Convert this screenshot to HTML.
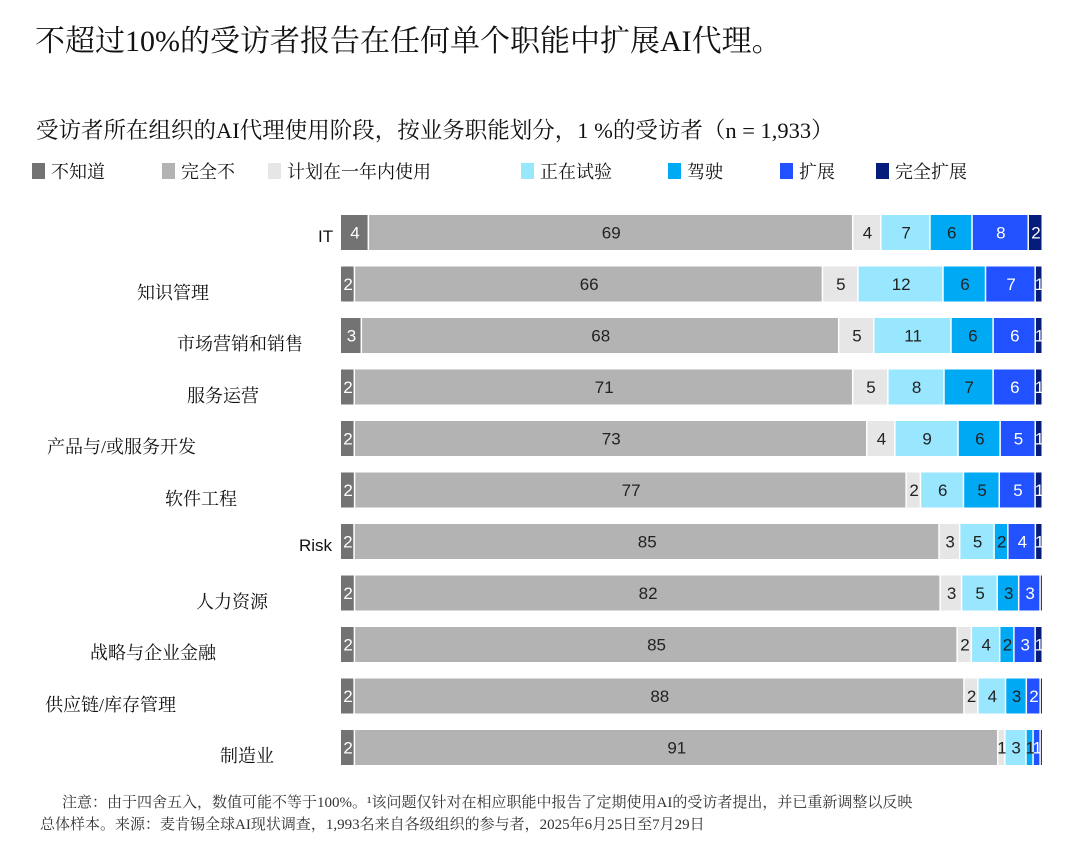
<!DOCTYPE html>
<html><head><meta charset="utf-8">
<style>
body{margin:0;background:#fff;width:1080px;height:854px;overflow:hidden;position:relative;font-family:"Liberation Serif","Noto Serif CJK SC",serif;color:#111}
.abs{position:absolute;white-space:nowrap}
.leg{position:absolute;top:158px;font-size:18px;font-family:"Liberation Serif","Noto Serif CJK SC",serif}
.leg i{display:inline-block;width:13px;height:16px;margin-right:6px;vertical-align:-1px}
.cat{position:absolute;font-size:18px}
</style></head><body>
<div class="abs" style="left:35px;top:16px;font-size:30px;">不超过10%的受访者报告在任何单个职能中扩展AI代理。</div>
<div class="abs" style="left:36px;top:113px;font-size:22.5px;">受访者所在组织的AI代理使用阶段，按业务职能划分，1 %的受访者（n = 1,933）</div>
<div id="legend"></div>
<svg id="chart" width="1080" height="854" style="position:absolute;left:0;top:0"></svg>
<div id="cats"></div>
<div class="abs" style="left:62px;top:792px;font-size:15px;color:#333;line-height:22px;">注意：由于四舍五入，数值可能不等于100%。¹该问题仅针对在相应职能中报告了定期使用AI的受访者提出，并已重新调整以反映<br><span style="margin-left:-22px">总体样本。来源：麦肯锡全球AI现状调查，1,993名来自各级组织的参与者，2025年6月25日至7月29日</span></div>
<script>
const categories=["IT","知识管理","市场营销和销售","服务运营","产品与/或服务开发","软件工程","Risk","人力资源","战略与企业金融","供应链/库存管理","制造业"];
const seriesNames=["不知道","完全不","计划在一年内使用","正在试验","驾驶","扩展","完全扩展"];
const dontKnow=[4,2,3,2,2,2,2,2,2,2,2];
const notAtAll=[69,66,68,71,73,77,85,82,85,88,91];
const planning=[4,5,5,5,4,2,3,3,2,2,1];
const experimenting=[7,12,11,8,9,6,5,5,4,4,3];
const piloting=[6,6,6,7,6,5,2,3,2,3,1];
const scaling=[8,7,6,6,5,5,4,3,3,2,1];
const fullyScaled=[2,1,1,1,1,1,1,0.3,1,0.3,0.3];
const series=[dontKnow,notAtAll,planning,experimenting,piloting,scaling,fullyScaled];
const colors=["#737373","#b3b3b3","#e6e6e6","#99e6ff","#00a9f4","#2251ff","#051c7a"];
const textColors=["#fff","#222","#222","#222","#222","#fff","#fff"];
const labelLeft=[318,137,177,187,47,165,299,196,90,45,220];
const legendX=[32,162,268,521,668,780,876];

const svg=document.getElementById('chart');
const NS="http://www.w3.org/2000/svg";
const x0=341,x1=1043,rowTop=215,rowStep=51.5,barH=35;
function yScale(i){return rowTop+i*rowStep;}
categories.forEach((c,i)=>{
  let total=0;series.forEach(s=>total+=s[i]);
  const xs=v=>v/total*(x1-x0);
  let x=x0;
  series.forEach((s,k)=>{
    const w=xs(s[i]);
    const r=document.createElementNS(NS,'rect');
    r.setAttribute('x',x);r.setAttribute('y',yScale(i));
    r.setAttribute('width',Math.max(w-1.5,1));r.setAttribute('height',barH);
    r.setAttribute('fill',colors[k]);
    
    
    svg.appendChild(r);
    if(s[i]>=1){
      const t=document.createElementNS(NS,'text');
      t.setAttribute('x',x+w/2);t.setAttribute('y',yScale(i)+barH/2+6);
      t.setAttribute('text-anchor','middle');t.setAttribute('font-size','17');
      t.setAttribute('font-family','Liberation Sans, sans-serif');
      t.setAttribute('fill',textColors[k]);
      t.textContent=Math.round(s[i]);
      
      
      svg.appendChild(t);
    }
    x+=w;
  });
  const d=document.createElement('div');
  d.className='cat';d.style.left=labelLeft[i]+'px';d.style.top=(yScale(i)+12)+'px';
  if(c==='IT'||c==='Risk')d.style.fontFamily='"Liberation Sans",sans-serif';
  if(c==='IT'||c==='Risk')d.style.fontSize='17px';
  d.textContent=c;
  
  
  document.getElementById('cats').appendChild(d);
});
const lg=document.getElementById('legend');
seriesNames.forEach((n,k)=>{
  const e=document.createElement('div');
  e.className='leg';e.style.left=legendX[k]+'px';
  e.innerHTML='<i style="background:'+colors[k]+'"></i>'+n;
  
  
  lg.appendChild(e);
});
</script>
</body></html>
